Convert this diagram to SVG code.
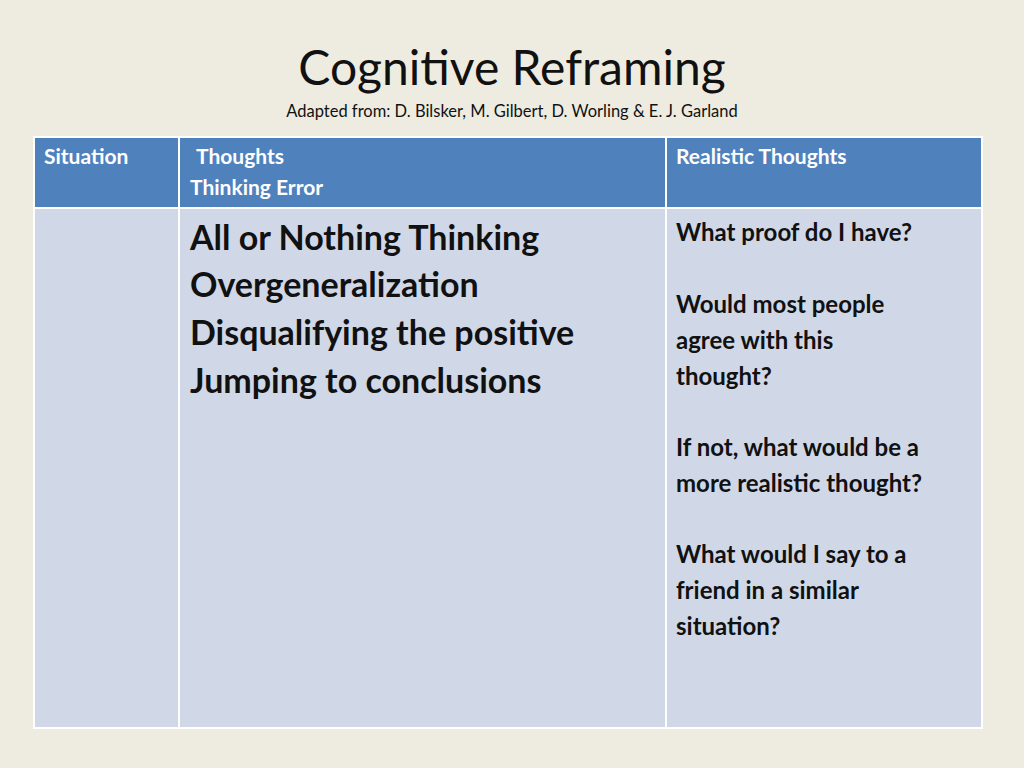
<svg xmlns="http://www.w3.org/2000/svg" width="1024" height="768" viewBox="0 0 1024 768">
<style>
.h{font-family:Lato,"Open Sans",sans-serif;font-weight:bold;font-size:21px;fill:#fff}
.b{font-family:Lato,"Open Sans",sans-serif;font-weight:bold;font-size:34px;fill:#111}
.r{font-family:Lato,"Open Sans",sans-serif;font-weight:bold;font-size:24px;fill:#111}
</style>
<rect width="1024" height="768" fill="#EEECE1"/>
<text x="512" y="85" text-anchor="middle" font-family="Lato,'Open Sans',sans-serif" font-size="48" fill="#111">Cognitive Reframing</text>
<text x="512" y="117" text-anchor="middle" font-family="Lato,'Open Sans',sans-serif" font-size="16.5" fill="#111">Adapted from: D. Bilsker, M. Gilbert, D. Worling &amp; E. J. Garland</text>
<g id="table" stroke="#fff" stroke-width="2">
<rect x="34" y="137" width="948" height="71" fill="#4F81BD"/>
<rect x="34" y="208" width="948" height="520" fill="#D0D8E8"/>
<line x1="179" y1="137" x2="179" y2="728"/>
<line x1="666" y1="137" x2="666" y2="728"/>
</g>
<g id="header">
<text class="h" x="44" y="164">Situation</text>
<text class="h" x="196" y="164">Thoughts</text>
<text class="h" x="190" y="195">Thinking Error</text>
<text class="h" x="676" y="164">Realistic Thoughts</text>
</g>
<g id="thoughts">
<text class="b" x="190" y="250">All or Nothing Thinking</text>
<text class="b" x="190" y="297">Overgeneralization</text>
<text class="b" x="190" y="345">Disqualifying the positive</text>
<text class="b" x="190" y="393">Jumping to conclusions</text>
</g>
<g id="realistic">
<text class="r" x="676" y="241">What proof do I have?</text>
<text class="r" x="676" y="313">Would most people</text>
<text class="r" x="676" y="349">agree with this</text>
<text class="r" x="676" y="385">thought?</text>
<text class="r" x="676" y="456">If not, what would be a</text>
<text class="r" x="676" y="492">more realistic thought?</text>
<text class="r" x="676" y="563">What would I say to a</text>
<text class="r" x="676" y="599">friend in a similar</text>
<text class="r" x="676" y="635">situation?</text>
</g>
</svg>
